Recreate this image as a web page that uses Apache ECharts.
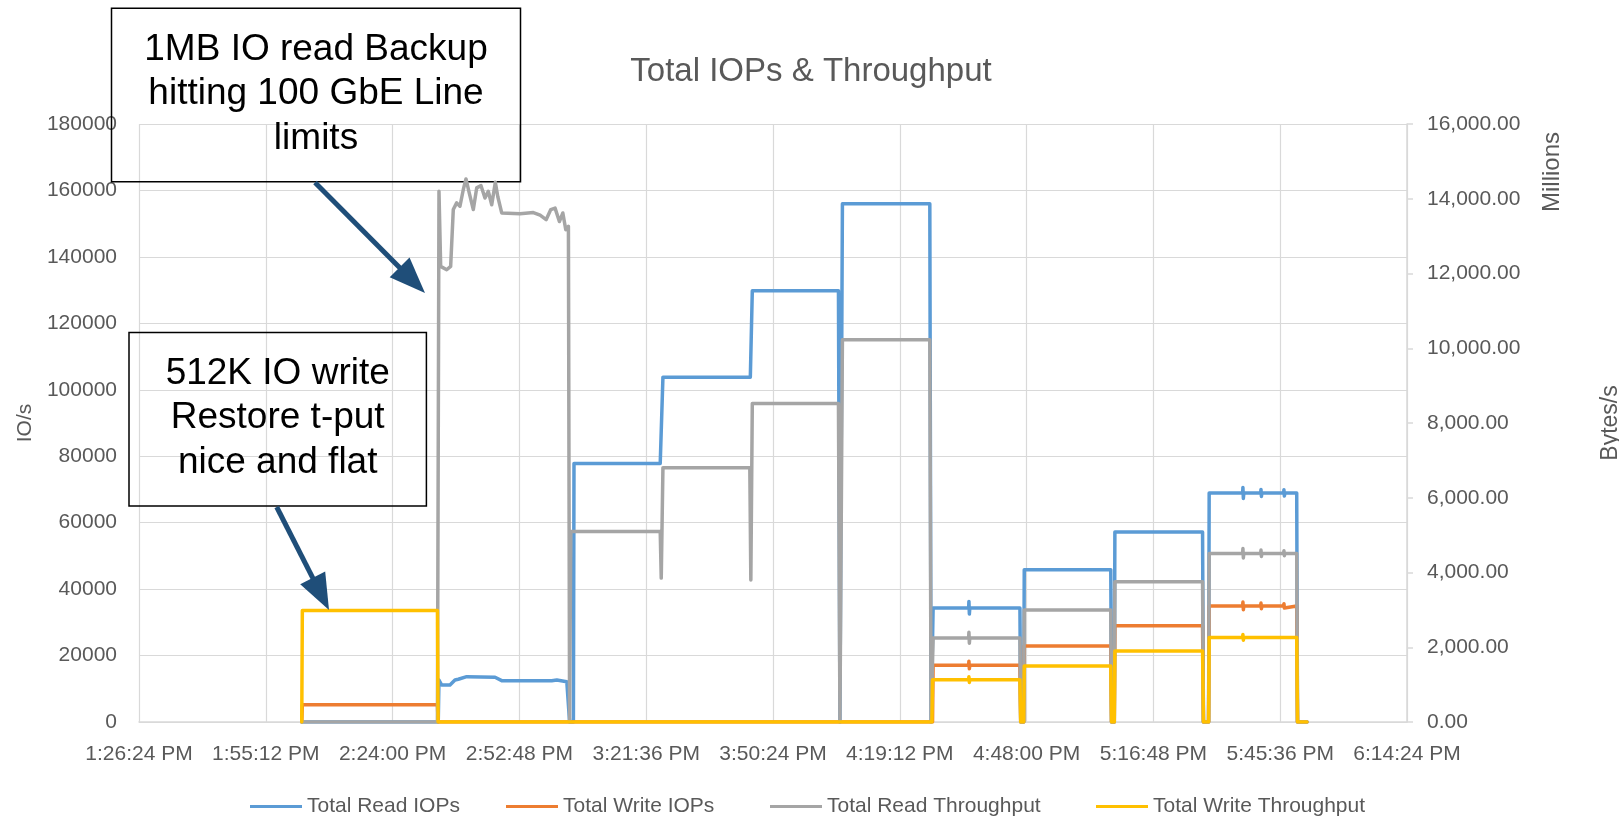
<!DOCTYPE html>
<html>
<head>
<meta charset="utf-8">
<title>Total IOPs &amp; Throughput</title>
<script src="https://cdn.jsdelivr.net/npm/echarts@6/dist/echarts.min.js"></script>
<style>
  html, body { margin: 0; padding: 0; background: #ffffff; overflow: hidden; }
  #chart { width: 1619px; height: 818px; }
</style>
</head>
<body>
<div id="chart"></div>
<script>
// ---- Time axis (clock times, 28:48 between ticks) ----
const timeAxisStart = '13:26:24';
const timeAxisEnd = '18:14:24';
const timeAxisStep = '00:28:48';

// ---- Value axes ----
const iopsAxisMax = 180000;
const iopsAxisStep = 20000;
const bytesAxisMax = 16000;   // millions of bytes per second
const bytesAxisStep = 2000;

// ---- Series names ----
const seriesNames = ['Total Read IOPs', 'Total Write IOPs', 'Total Read Throughput', 'Total Write Throughput'];

// ---- Total Read IOPs (IO/s) ----
const readIops = [
  ['14:03:22', 0], ['14:34:22', 0], ['14:34:32', 12650], ['14:35:09', 11140], ['14:37:02', 11140],
  ['14:38:10', 12650], ['14:38:55', 12860], ['14:40:50', 13650], ['14:47:16', 13460], ['14:48:47', 12440],
  ['15:00:09', 12440], ['15:01:18', 12650], ['15:03:34', 12140], ['15:03:56', 12140], ['15:04:12', 0],
  ['15:05:04', 0], ['15:05:12', 77800], ['15:24:47', 77800], ['15:25:24', 103800], ['15:45:15', 103800],
  ['15:45:42', 129800], ['16:05:16', 129800], ['16:05:36', 0], ['16:05:57', 0], ['16:06:10', 156000],
  ['16:26:01', 156000], ['16:26:18', 0], ['16:26:38', 0], ['16:26:46', 34300],
  ['16:34:50', 34300], ['16:34:54', 36300], ['16:35:00', 32500], ['16:35:06', 34300],
  ['16:46:29', 34300], ['16:46:40', 0], ['16:47:20', 0], ['16:47:28', 45800], ['17:07:07', 45800],
  ['17:07:18', 0], ['17:07:55', 0], ['17:08:03', 57200], ['17:27:58', 57200], ['17:28:10', 0],
  ['17:29:20', 0], ['17:29:28', 68900],
  ['17:37:04', 68900], ['17:37:08', 70600], ['17:37:14', 67300], ['17:37:20', 68900],
  ['17:41:10', 68900], ['17:41:14', 70000], ['17:41:20', 67900], ['17:41:26', 68900],
  ['17:46:23', 68900], ['17:46:27', 69900], ['17:46:33', 68000], ['17:46:39', 68900],
  ['17:49:21', 68900], ['17:49:32', 0], ['17:51:40', 0]
];

// ---- Total Write IOPs (IO/s) ----
const writeIops = [
  ['14:03:22', 0], ['14:03:30', 5200], ['14:34:11', 5200], ['14:34:20', 0],
  ['16:26:38', 0], ['16:26:46', 17100],
  ['16:34:50', 17100], ['16:34:54', 18300], ['16:35:00', 16000], ['16:35:06', 17100],
  ['16:46:29', 17100], ['16:46:40', 0], ['16:47:20', 0], ['16:47:28', 22900], ['17:07:07', 22900],
  ['17:07:18', 0], ['17:07:55', 0], ['17:08:03', 29000], ['17:27:58', 29000], ['17:28:10', 0],
  ['17:29:20', 0], ['17:29:28', 34900],
  ['17:37:04', 34900], ['17:37:08', 36100], ['17:37:14', 33800], ['17:37:20', 34900],
  ['17:41:10', 34900], ['17:41:14', 35800], ['17:41:20', 34100], ['17:41:26', 34900],
  ['17:46:23', 34900], ['17:46:27', 35600], ['17:46:33', 34300], ['17:46:39', 34900],
  ['17:49:21', 34900], ['17:49:32', 0], ['17:51:40', 0]
];

// ---- Total Read Throughput (millions of bytes/s) ----
const readThroughput = [
  ['14:03:22', 0], ['14:34:11', 0], ['14:34:32', 14200], ['14:34:55', 12190], ['14:36:17', 12100],
  ['14:37:11', 12190], ['14:37:47', 13710], ['14:38:33', 13890], ['14:39:18', 13800], ['14:40:03', 14240],
  ['14:40:40', 14530], ['14:41:25', 14150], ['14:42:20', 13710], ['14:43:06', 14290], ['14:44:05', 14350],
  ['14:44:59', 14020], ['14:45:44', 14200], ['14:46:31', 13840], ['14:47:20', 14440], ['14:47:53', 14060],
  ['14:48:47', 13620], ['14:52:57', 13600], ['14:55:58', 13630], ['14:57:30', 13560], ['14:58:52', 13440],
  ['14:59:56', 13710], ['15:00:54', 13750], ['15:01:53', 13390], ['15:02:40', 13620], ['15:03:20', 13170],
  ['15:03:56', 13260], ['15:04:12', 0], ['15:04:20', 0], ['15:04:28', 5100], ['15:24:47', 5100],
  ['15:25:01', 3850], ['15:25:24', 6800], ['15:45:08', 6800], ['15:45:22', 3800], ['15:45:42', 8520],
  ['16:05:16', 8520], ['16:05:36', 0], ['16:05:57', 0], ['16:06:10', 10230], ['16:26:01', 10230],
  ['16:26:18', 0], ['16:26:38', 0], ['16:26:46', 2250],
  ['16:34:50', 2250], ['16:34:54', 2400], ['16:35:00', 2110], ['16:35:06', 2250],
  ['16:46:29', 2250], ['16:46:40', 0], ['16:47:20', 0], ['16:47:28', 3000], ['17:07:07', 3000],
  ['17:07:18', 0], ['17:07:55', 0], ['17:08:03', 3750], ['17:27:58', 3750], ['17:28:10', 0],
  ['17:29:20', 0], ['17:29:28', 4510],
  ['17:37:04', 4510], ['17:37:08', 4640], ['17:37:14', 4390], ['17:37:20', 4510],
  ['17:41:10', 4510], ['17:41:14', 4600], ['17:41:20', 4430], ['17:41:26', 4510],
  ['17:46:23', 4510], ['17:46:27', 4580], ['17:46:33', 4450], ['17:46:39', 4510],
  ['17:49:21', 4510], ['17:49:32', 0], ['17:51:40', 0]
];

// ---- Total Write Throughput (millions of bytes/s) ----
const writeThroughput = [
  ['14:03:22', 0], ['14:03:30', 2980], ['14:34:11', 2980], ['14:34:20', 0],
  ['16:26:30', 0], ['16:26:38', 1130],
  ['16:34:50', 1130], ['16:34:54', 1210], ['16:35:00', 1060], ['16:35:06', 1130],
  ['16:46:29', 1130], ['16:46:40', 0], ['16:47:20', 0], ['16:47:28', 1500], ['17:07:07', 1500],
  ['17:07:18', 0], ['17:07:55', 0], ['17:08:03', 1900], ['17:27:58', 1900], ['17:28:10', 0],
  ['17:29:20', 0], ['17:29:28', 2260],
  ['17:37:04', 2260], ['17:37:08', 2340], ['17:37:14', 2190], ['17:37:20', 2260],
  ['17:49:21', 2260], ['17:49:32', 0], ['17:51:40', 0]
];

// ---- Helpers ----
function toSec(hms) {
  const [h, m, s] = hms.split(':').map(Number);
  return h * 3600 + m * 60 + s;
}
function pad(n) { return (n < 10 ? '0' : '') + n; }
function clockLabel(sec) {
  const h = Math.floor(sec / 3600);
  const m = Math.floor((sec % 3600) / 60);
  const s = Math.round(sec % 60);
  const h12 = (h % 12) || 12;
  return h12 + ':' + pad(m) + ':' + pad(s) + ' ' + (h >= 12 ? 'PM' : 'AM');
}
function toPoints(rows) { return rows.map(([t, v]) => [toSec(t), v]); }
function thousands(v) {
  const fixed = v.toFixed(2).split('.');
  return fixed[0].replace(/\B(?=(\d{3})+(?!\d))/g, ',') + '.' + fixed[1];
}

const UI_FONT = '"Liberation Sans", Arial, sans-serif';
const TEXT_GREY = '#595959';
const GRID_GREY = '#D9D9D9';
const colors = ['#5B9BD5', '#ED7D31', '#A5A5A5', '#FFC000'];
const ARROW_BLUE = '#1F4E79';

// Callout arrow: shaft plus a filled triangular head
function arrow(x1, y1, x2, y2) {
  const dx = x2 - x1, dy = y2 - y1, len = Math.hypot(dx, dy);
  const ux = dx / len, uy = dy / len, headLen = 36, headHalf = 14;
  const bx = x2 - ux * headLen, by = y2 - uy * headLen;
  return [
    { type: 'line', z: 5, shape: { x1: x1, y1: y1, x2: bx + ux * 2, y2: by + uy * 2 },
      style: { stroke: ARROW_BLUE, lineWidth: 5 } },
    { type: 'polygon', z: 5,
      shape: { points: [[x2, y2], [bx + uy * headHalf, by - ux * headHalf], [bx - uy * headHalf, by + ux * headHalf]] },
      style: { fill: ARROW_BLUE } }
  ];
}

// Text box with a thin black outline and no fill
function callout(x, y, w, h, lines, textY) {
  return [
    { type: 'rect', z: 1, shape: { x: x, y: y, width: w, height: h },
      style: { fill: 'rgba(255,255,255,0)', stroke: '#000000', lineWidth: 1.5 } },
    { type: 'text', z: 1, x: x + w / 2, y: textY,
      style: { text: lines.join('\n'), font: '37px ' + UI_FONT, fill: '#000000',
               align: 'center', verticalAlign: 'middle', lineHeight: 44.4 } }
  ];
}

const chart = echarts.init(document.getElementById('chart'), null, { renderer: 'canvas' });

const legendLefts = [250, 506, 770, 1096];

const option = {
  animation: false,
  backgroundColor: '#ffffff',
  color: colors,
  title: {
    text: 'Total IOPs & Throughput',
    left: 811, top: 55, textAlign: 'center', padding: 0,
    textStyle: { fontFamily: UI_FONT, fontSize: 33, fontWeight: 'normal', color: TEXT_GREY }
  },
  legend: seriesNames.map((name, i) => ({
    data: [name],
    left: legendLefts[i], top: 796, padding: 0,
    icon: 'rect', itemWidth: 52, itemHeight: 3,
    textStyle: { fontFamily: UI_FONT, fontSize: 21, color: TEXT_GREY }
  })),
  grid: { left: 139, right: 212, top: 124, bottom: 96, containLabel: false, outerBoundsMode: 'none' },
  xAxis: {
    type: 'value',
    min: toSec(timeAxisStart), max: toSec(timeAxisEnd), interval: toSec(timeAxisStep),
    axisLine: { show: true, lineStyle: { color: GRID_GREY, width: 1.5 } },
    axisTick: { show: false },
    splitLine: { show: true, lineStyle: { color: GRID_GREY, width: 1.2 } },
    axisLabel: { formatter: clockLabel, color: TEXT_GREY, fontFamily: UI_FONT, fontSize: 21, margin: 22 }
  },
  yAxis: [
    {
      type: 'value', position: 'left', min: 0, max: iopsAxisMax, interval: iopsAxisStep,
      name: 'IO/s', nameLocation: 'middle', nameGap: 102, nameRotate: 90,
      nameTextStyle: { fontFamily: UI_FONT, fontSize: 21, color: TEXT_GREY },
      axisLine: { show: false }, axisTick: { show: false },
      splitLine: { show: true, lineStyle: { color: GRID_GREY, width: 1.2 } },
      axisLabel: { formatter: v => String(v), color: TEXT_GREY, fontFamily: UI_FONT, fontSize: 21, margin: 22 }
    },
    {
      type: 'value', position: 'right', min: 0, max: bytesAxisMax, interval: bytesAxisStep,
      name: 'Bytes/s', nameLocation: 'middle', nameGap: 192, nameRotate: 90,
      nameTextStyle: { fontFamily: UI_FONT, fontSize: 23, color: TEXT_GREY },
      axisLine: { show: true, lineStyle: { color: GRID_GREY, width: 1.5 } },
      axisTick: { show: true, length: 6, lineStyle: { color: GRID_GREY, width: 1.5 } },
      splitLine: { show: false },
      axisLabel: { formatter: thousands, color: TEXT_GREY, fontFamily: UI_FONT, fontSize: 21, margin: 20 }
    }
  ],
  series: [
    { name: seriesNames[0], type: 'line', yAxisIndex: 0, data: toPoints(readIops) },
    { name: seriesNames[1], type: 'line', yAxisIndex: 0, data: toPoints(writeIops) },
    { name: seriesNames[2], type: 'line', yAxisIndex: 1, data: toPoints(readThroughput) },
    { name: seriesNames[3], type: 'line', yAxisIndex: 1, data: toPoints(writeThroughput) }
  ].map((s, i) => Object.assign(s, {
    symbol: 'none', showSymbol: false, z: 3,
    lineStyle: { color: colors[i], width: 3.5, join: 'round', cap: 'round' },
    itemStyle: { color: colors[i] }
  })),
  graphic: [
    { type: 'text', z: 1, x: 1552, y: 172, rotation: Math.PI / 2,
      style: { text: 'Millions', font: '24px ' + UI_FONT, fill: TEXT_GREY, align: 'center', verticalAlign: 'middle' } },
    ...callout(111.5, 8.3, 409, 173.4, ['1MB IO read Backup', 'hitting 100 GbE Line', 'limits'], 94),
    ...callout(129, 332.5, 297.4, 173.5, ['512K IO write', 'Restore t-put', 'nice and flat'], 418),
    ...arrow(315, 182.5, 425, 293),
    ...arrow(276.7, 507, 329, 610)
  ]
};

chart.setOption(option);
</script>
</body>
</html>
